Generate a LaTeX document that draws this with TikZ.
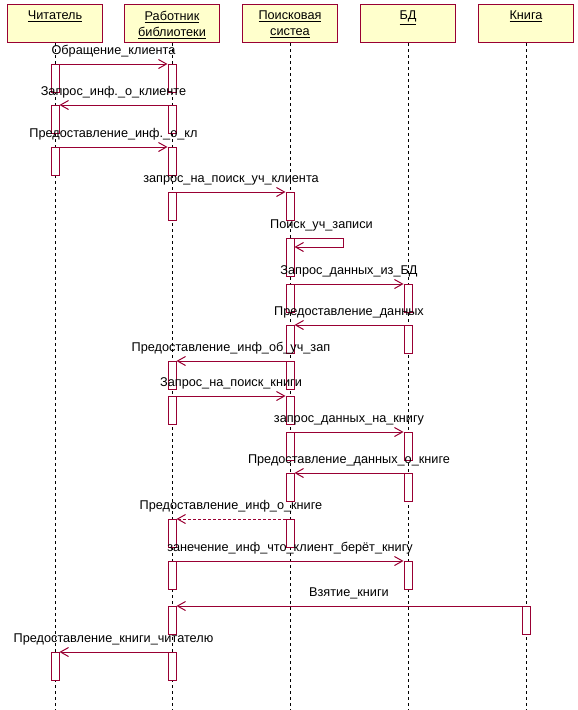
\documentclass[tikz,border=0pt]{standalone}
\usepackage{fontspec}
\setmainfont{Liberation Sans}
\usetikzlibrary{arrows.meta,positioning}
\definecolor{umlred}{RGB}{153,0,51}
\definecolor{umlyellow}{RGB}{255,255,204}
\tikzset{
  obj/.style={draw=umlred,fill=umlyellow,line width=1pt,minimum width=95pt,
    minimum height=38pt,anchor=north,inner sep=0pt},
  objname/.style={anchor=north,inner sep=0pt,align=center},
  life/.style={line width=1pt,dash pattern=on 3pt off 3pt},
  act/.style={draw=umlred,fill=white,line width=1pt,minimum width=8pt,
    minimum height=28pt,anchor=north,inner sep=0pt},
  msg/.style={draw=umlred,line width=1pt,-{Straight Barb[length=8pt,width=9pt]}},
  reply/.style={msg,dash pattern=on 3pt off 2pt},
  lbl/.style={anchor=base,inner sep=0pt,yshift=10pt}
}

\begin{document}
\begin{tikzpicture}[x=1pt,y=-1pt,font=\fontsize{12.7}{16}\selectfont]
  \useasboundingbox (0,0) rectangle (578,710);
  \coordinate (bottom) at (0,710);

  \node[obj] (reader) at (55,4) {};
  \node[obj] (worker) at (172,4) {};
  \node[obj] (search) at (290,4) {};
  \node[obj] (db) at (408,4) {};
  \node[obj] (book) at (526,4) {};
  \node[objname] (readername) at ([yshift=-7pt]reader.north) {\underline{Читатель}};
  \node[objname] (workername) at ([yshift=-7pt]worker.north) {\underline{Работник}\\\underline{библиотеки}};
  \node[objname] (searchname) at ([yshift=-7pt]search.north) {\underline{Поисковая}\\\underline{систеа}};
  \node[objname] (dbname) at ([yshift=-7pt]db.north) {\underline{БД}};
  \node[objname] (bookname) at ([yshift=-7pt]book.north) {\underline{Книга}};

  \foreach \o in {reader,worker,search,db,book}
    \draw[life] (\o.south) -- (\o.south |- bottom);

  \foreach \y/\n in {64/r1,105/r2,147/r3,652/r4}
    \node[act] (\n) at (55,\y) {};
  \foreach \y/\n in {64/w1,105/w2,147/w3,192/w4,361/w5,396/w6,519/w7,561/w8,606/w9,652/w10}
    \node[act] (\n) at (172,\y) {};
  \foreach \y/\n in {192/s1,284/s3,325/s4,361/s5,396/s6,432/s7,473/s8,519/s9}
    \node[act] (\n) at (290,\y) {};
  \node[act,minimum height=38pt] (s2) at (290,238) {};
  \foreach \y/\n in {284/d1,325/d2,432/d3,473/d4,561/d5}
    \node[act] (\n) at (408,\y) {};
  \node[act] (k1) at (526,606) {};

  \draw[msg] (r1.north east) -- node[lbl] (m1) {Обращение\_клиента} (w1.north west);
  \draw[msg] (w2.north west) -- node[lbl] (m2) {Запрос\_инф.\_о\_клиенте} (r2.north east);
  \draw[msg] (r3.north east) -- node[lbl] (m3) {Предоставление\_инф.\_о\_кл} (w3.north west);
  \draw[msg] (w4.north east) -- node[lbl] (m4) {запрос\_на\_поиск\_уч\_клиента} (s1.north west);
  \draw[msg] (s2.north east) -- node[lbl,pos=.55] (m5) {Поиск\_уч\_записи} ++(49,0)
    |- ([yshift=-9pt]s2.north east);
  \draw[msg] (s3.north east) -- node[lbl] (m6) {Запрос\_данных\_из\_БД} (d1.north west);
  \draw[msg] (d2.north west) -- node[lbl] (m7) {Предоставление\_данных} (s4.north east);
  \draw[msg] (s5.north west) -- node[lbl] (m8) {Предоставление\_инф\_об\_уч\_зап} (w5.north east);
  \draw[msg] (w6.north east) -- node[lbl] (m9) {Запрос\_на\_поиск\_книги} (s6.north west);
  \draw[msg] (s7.north east) -- node[lbl] (m10) {запрос\_данных\_на\_книгу} (d3.north west);
  \draw[msg] (d4.north west) -- node[lbl] (m11) {Предоставление\_данных\_о\_книге} (s8.north east);
  \draw[reply] (s9.north west) -- node[lbl] (m12) {Предоставление\_инф\_о\_книге} (w7.north east);
  \draw[msg] (w8.north east) -- node[lbl] (m13) {занечение\_инф\_что\_клиент\_берёт\_книгу} (d5.north west);
  \draw[msg] (k1.north west) -- node[lbl] (m14) {Взятие\_книги} (w9.north east);
  \draw[msg] (w10.north west) -- node[lbl] (m15) {Предоставление\_книги\_читателю} (r4.north east);
\end{tikzpicture}
\end{document}
